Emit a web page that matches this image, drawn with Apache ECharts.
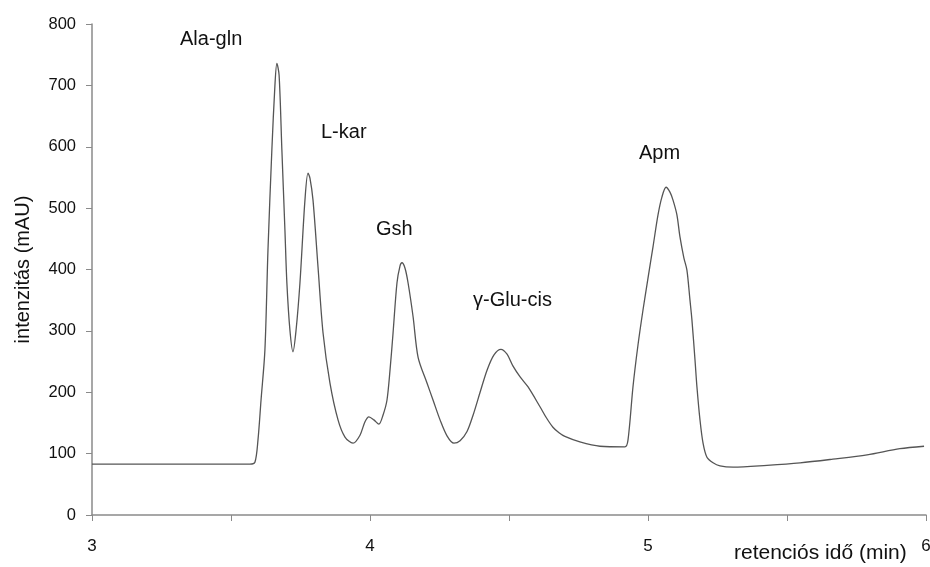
<!DOCTYPE html>
<html>
<head>
<meta charset="utf-8">
<script src="https://cdn.jsdelivr.net/npm/echarts@6/dist/echarts.min.js"></script>
<style>
html,body{margin:0;padding:0;background:#fff;}
#chart{width:930px;height:567px;}
</style>
</head>
<body>
<div id="chart"></div>
<script>
// retention time (min)
var times = [3.000,3.209,3.388,3.568,3.586,3.597,3.608,3.622,3.633,3.647,3.658,3.665,3.673,3.683,3.694,3.701,3.712,3.723,3.734,3.748,3.766,3.777,3.784,3.795,3.813,3.831,3.856,3.885,3.910,3.939,3.964,3.982,3.996,4.014,4.032,4.047,4.061,4.072,4.083,4.097,4.108,4.115,4.126,4.137,4.155,4.173,4.205,4.227,4.252,4.277,4.302,4.324,4.349,4.371,4.396,4.421,4.446,4.471,4.493,4.514,4.540,4.568,4.612,4.635,4.658,4.680,4.701,4.755,4.827,4.917,4.928,4.946,4.964,4.982,5.000,5.018,5.036,5.050,5.065,5.079,5.090,5.104,5.115,5.129,5.140,5.151,5.158,5.169,5.176,5.187,5.198,5.212,5.234,5.259,5.306,5.428,5.547,5.665,5.788,5.906,5.993];
// intensity (mAU)
var intensity = [83,83,83,83,86,122,187,269,432,595,700,736,717,595,464,378,301,266,301,378,513,557,549,513,404,297,215,155,127,117,130,152,160,155,148,163,187,236,297,378,406,411,402,378,323,257,215,187,155,129,117,121,136,163,200,236,261,270,262,243,225,209,176,158,143,134,128,119,112,111,122,209,277,334,386,437,489,518,534,526,513,489,453,419,399,350,318,253,209,155,117,94,85,80,78,81,85,91,98,108,112];
var peakNames = ['Ala-gln','L-kar','Gsh','\u03b3-Glu-cis','Apm'];
var xTickLabels = [3,4,5,6];
var xTitle = 'retenciós idő (min)';
var yTitle = 'intenzitás (mAU)';

var pts = times.map(function(t,i){return [t,intensity[i]];});
var chart = echarts.init(document.getElementById('chart'));
var font = '"Liberation Sans", Arial, sans-serif';
var labelPos = [[180,29],[321,122],[376,219],[473,290],[639,143]];
chart.setOption({
  animation:false,
  backgroundColor:'#fff',
  grid:{left:92,right:4,top:24,bottom:52,outerBoundsMode:'none',containLabel:false},
  xAxis:{
    type:'value',min:3,max:6,interval:0.5,
    axisLine:{lineStyle:{color:'#8a8a8a',width:1.5}},
    axisTick:{inside:false,length:6,lineStyle:{color:'#8a8a8a'}},
    splitLine:{show:false},
    axisLabel:{color:'#111',fontSize:17,fontFamily:font,margin:23,
      formatter:function(v){return xTickLabels.indexOf(v)>=0?String(v):'';}}
  },
  yAxis:{
    type:'value',min:0,max:800,interval:100,
    name:yTitle,nameLocation:'middle',nameGap:59,
    nameTextStyle:{color:'#111',fontSize:20,fontFamily:font},
    axisLine:{show:true,lineStyle:{color:'#8a8a8a',width:1.5}},
    axisTick:{show:true,length:6,lineStyle:{color:'#8a8a8a'}},
    splitLine:{show:false},
    axisLabel:{color:'#111',fontSize:16.5,fontFamily:font,margin:16}
  },
  series:[{
    type:'line',data:pts,showSymbol:false,smooth:0.3,
    lineStyle:{color:'#555',width:1.3}
  }],
  graphic:peakNames.map(function(n,i){
    return {type:'text',left:labelPos[i][0],top:labelPos[i][1],
      style:{text:n,fill:'#111',font:'20px '+font}};
  }).concat([{type:'text',left:734,top:543,
      style:{text:xTitle,fill:'#111',font:'21px '+font}}])
});
</script>
</body>
</html>
